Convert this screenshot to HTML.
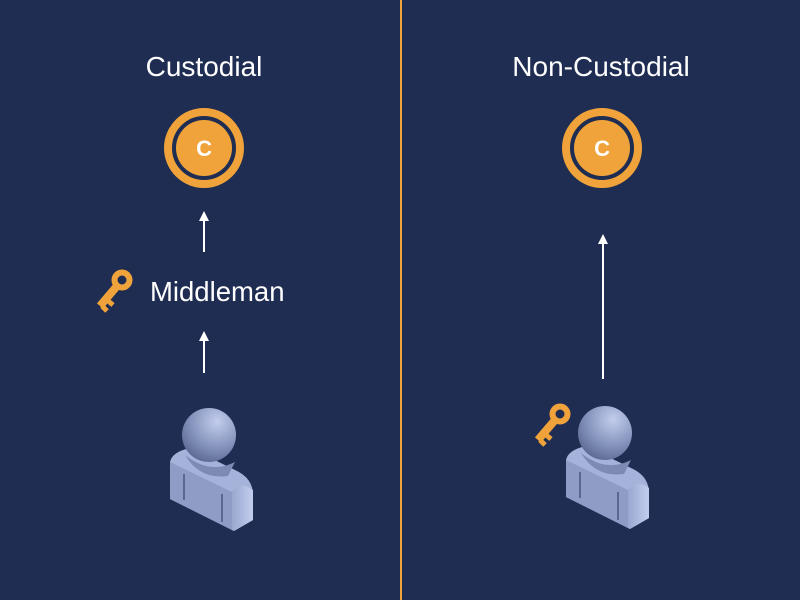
<!DOCTYPE html>
<html><head><style>
html,body{margin:0;padding:0;background:#1f2d52;}
svg{display:block}
text{font-family:"Liberation Sans",sans-serif;fill:#fff}
</style></head><body>
<svg width="800" height="600" viewBox="0 0 800 600">
<defs>
<radialGradient id="hg" cx="0.65" cy="0.25" r="0.8">
<stop offset="0" stop-color="#c3cdec"/><stop offset="0.6" stop-color="#8594bd"/><stop offset="1" stop-color="#5c6a93"/>
</radialGradient>
<linearGradient id="sg" x1="0" y1="0" x2="1" y2="0"><stop offset="0" stop-color="#9aa8d0"/><stop offset="1" stop-color="#c2cdee"/></linearGradient>
<g id="person">
<path d="M170 462 Q172 452 190 448 L235 470 Q253 478 253 495 L253 520 L234 531 L170 499 Z" fill="#a5b3da"/>
<path d="M170 462 L232 492 L232 530 L170 499 Z" fill="#8f9dc6"/>
<path d="M232 492 Q240 480 253 490 L253 520 L234 531 L232 530 Z" fill="url(#sg)"/>
<path d="M185 455 Q210 475 235 462 L228 476 Q200 480 185 455Z" fill="#7d8bb4"/>
<line x1="184" y1="474" x2="184" y2="500" stroke="#5a6890" stroke-width="2"/>
<line x1="222" y1="494" x2="222" y2="522" stroke="#5a6890" stroke-width="2"/>
<circle cx="209" cy="435" r="27" fill="url(#hg)"/>
</g>
<g id="coin">
<circle cx="0" cy="0" r="36" fill="none" stroke="#f0a33a" stroke-width="8"/>
<circle cx="0" cy="0" r="28" fill="#f0a33a"/>
<text x="0" y="8" font-size="22" font-weight="bold" text-anchor="middle">C</text>
</g>
<g id="key" fill="none" stroke="#f0a33a">
<circle cx="0" cy="0" r="7.5" stroke-width="6"/>
<line x1="-5" y1="6" x2="-22" y2="26" stroke-width="8"/>
<path d="M-15 20 l6 5 M-20 26 l5 5" stroke-width="5"/>
</g>
</defs>
<line x1="401" y1="0" x2="401" y2="600" stroke="#f0a33a" stroke-width="2"/>
<text x="204" y="76" font-size="28" text-anchor="middle">Custodial</text>
<text x="601" y="76" font-size="28" text-anchor="middle">Non-Custodial</text>
<use href="#coin" x="204" y="148"/>
<use href="#coin" x="602" y="148"/>
<g stroke="#fff" stroke-width="2">
<line x1="204" y1="252" x2="204" y2="218"/>
<line x1="204" y1="373" x2="204" y2="338"/>
<line x1="603" y1="379" x2="603" y2="241"/>
</g>
<g fill="#fff">
<path d="M204 211 l-5 10 h10z"/>
<path d="M204 331 l-5 10 h10z"/>
<path d="M603 234 l-5 10 h10z"/>
</g>
<text x="150" y="301" font-size="27.5">Middleman</text>
<use href="#key" x="122" y="280"/>
<use href="#key" x="560" y="414"/>
<use href="#person"/>
<use href="#person" x="396" y="-2"/>
</svg>
</body></html>
